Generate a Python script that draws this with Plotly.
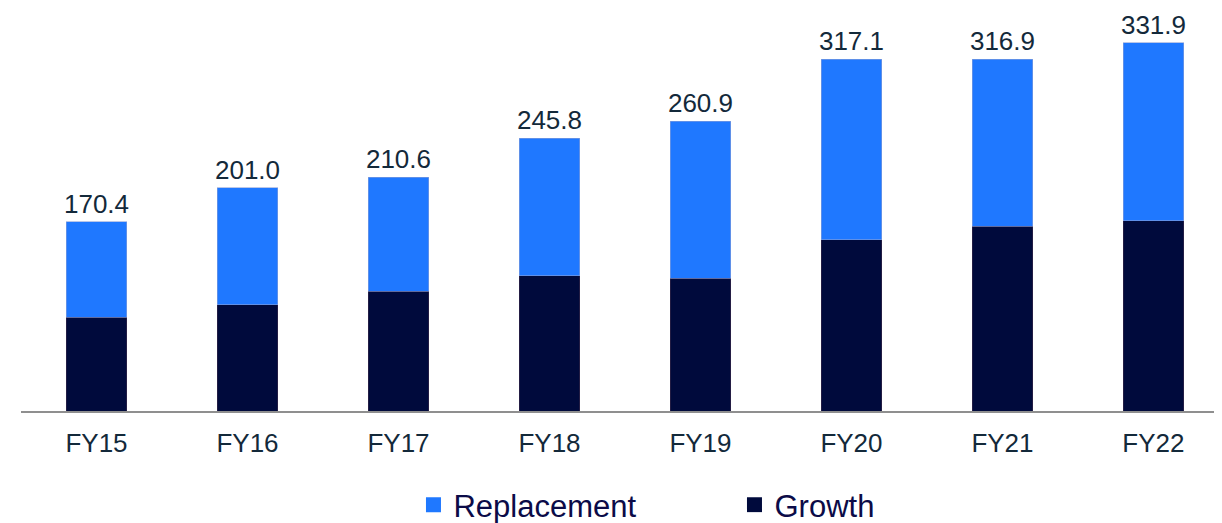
import plotly.graph_objects as go

categories = ["FY15", "FY16", "FY17", "FY18", "FY19", "FY20", "FY21", "FY22"]
growth = [84.3, 95.8, 107.7, 121.9, 119.8, 154.3, 166.3, 171.4]
totals = [170.4, 201.0, 210.6, 245.8, 260.9, 317.1, 316.9, 331.9]
replacement = [round(t - g, 1) for t, g in zip(totals, growth)]
total_labels = [f"{t:.1f}" for t in totals]

GROWTH_C = "#000a3c"
REPL_C = "#1f78ff"
TXT_C = "#13293a"
LEG_C = "#0b0b48"
FONT = "Liberation Sans, Arial, sans-serif"

fig = go.Figure()
fig.add_trace(go.Bar(x=categories, y=growth, name="Growth", marker_color=GROWTH_C,
                     marker_line=dict(color="#3a2a4a", width=0.6), width=0.4,
                     showlegend=False, hoverinfo="skip"))
fig.add_trace(go.Bar(x=categories, y=replacement, name="Replacement", marker_color=REPL_C,
                     marker_line=dict(color="#8aa0d8", width=0.6), width=0.4,
                     text=total_labels, textposition="outside", cliponaxis=False,
                     constraintext="none",
                     textfont=dict(size=26, color=TXT_C, family=FONT),
                     showlegend=False, hoverinfo="skip"))
# legend entries
fig.add_trace(go.Scatter(x=[None], y=[None], mode="markers", name="Replacement",
                         marker=dict(symbol="square", size=15, color=REPL_C)))
fig.add_trace(go.Scatter(x=[None], y=[None], mode="markers", name="Growth",
                         marker=dict(symbol="square", size=15, color=GROWTH_C)))

# page body has an 8px default margin, so the figure is sized to fit the window
fig.update_layout(
    width=1214, height=515,
    barmode="stack",
    plot_bgcolor="white", paper_bgcolor="white",
    margin=dict(l=13, r=0, t=12, b=112, autoexpand=False),
    font=dict(family=FONT, color=TXT_C),
    legend=dict(orientation="h", x=0.334, xanchor="left", xref="container",
                y=0.035, yanchor="middle", yref="container",
                font=dict(size=31, color=LEG_C, family=FONT),
                entrywidth=276, entrywidthmode="pixels", traceorder="normal",
                itemwidth=30, bgcolor="rgba(0,0,0,0)"),
)
fig.update_xaxes(range=[-0.5, 7.454], showline=True, linecolor="#8f8f8f", linewidth=2,
                 ticks="", ticklabelstandoff=8, automargin=False,
                 tickfont=dict(size=26, color=TXT_C, family=FONT),
                 showgrid=False, zeroline=False, fixedrange=True)
fig.update_yaxes(range=[0, 352.3], visible=False, showgrid=False, zeroline=False, fixedrange=True)

fig.write_html("out.html")
